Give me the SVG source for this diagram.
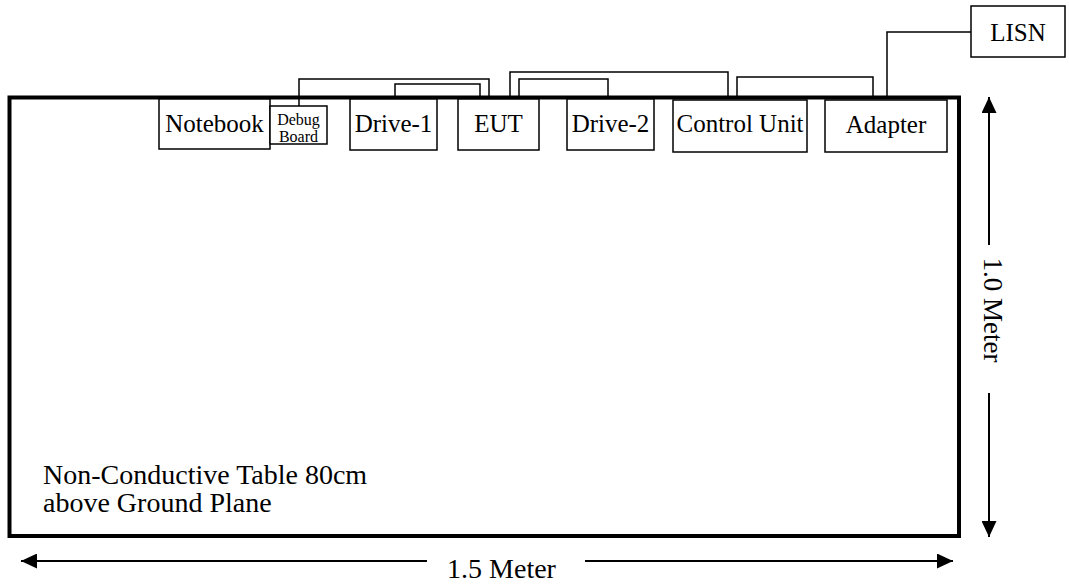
<svg xmlns="http://www.w3.org/2000/svg" width="1069" height="586" viewBox="0 0 1069 586">
<style>
  text { font-family: "Liberation Serif", "Times New Roman", serif; fill: #000; }
  .box { fill: #fff; stroke: #000; stroke-width: 1.5; }
  .lbl { font-family: "Liberation Serif", "Times New Roman", serif; font-size: 25px; text-anchor: middle; }
  .small { font-family: "Liberation Serif", "Times New Roman", serif; font-size: 16px; text-anchor: middle; }
  .big { font-family: "Liberation Serif", "Times New Roman", serif; font-size: 28px; }
  .wire { fill: none; stroke: #000; stroke-width: 1.5; }
  .dim { fill: none; stroke: #000; stroke-width: 2; }
</style>
<defs>
  <marker id="ah" markerWidth="16" markerHeight="15" refX="16" refY="7.5" orient="auto-start-reverse" markerUnits="userSpaceOnUse">
    <path d="M0,0 L16,7.5 L0,15 z" fill="#000"/>
  </marker>
</defs>
<rect width="1069" height="586" fill="#fff"/>

<g id="table">
  <rect x="9.5" y="97.5" width="949.5" height="438.5" fill="none" stroke="#000" stroke-width="4"/>
  <text class="big" x="43" y="484">Non-Conductive Table 80cm</text>
  <text class="big" x="43" y="512">above Ground Plane</text>
</g>

<g id="connectors">
  <polyline class="wire" points="299,106 299,79 489,79 489,97"/>
  <polyline class="wire" points="395,97 395,84 480,84 480,97"/>
  <polyline class="wire" points="510,97 510,72 728,72 728,97"/>
  <polyline class="wire" points="519,97 519,79 608,79 608,97"/>
  <polyline class="wire" points="737,97 737,77 873,77 873,97"/>
  <polyline class="wire" points="887,97 887,32 971,32"/>
</g>

<g id="notebook">
  <rect class="box" x="159" y="99" width="111" height="50"/>
  <text class="lbl" x="214.5" y="132">Notebook</text>
</g>
<g id="debug-board">
  <rect class="box" x="270" y="106" width="57" height="38"/>
  <text class="small" x="298.5" y="125">Debug</text>
  <text class="small" x="298.5" y="142">Board</text>
</g>
<g id="drive-1">
  <rect class="box" x="350" y="99" width="87" height="51"/>
  <text class="lbl" x="393.5" y="132">Drive-1</text>
</g>
<g id="eut">
  <rect class="box" x="458" y="99" width="81" height="51"/>
  <text class="lbl" x="498.5" y="132">EUT</text>
</g>
<g id="drive-2">
  <rect class="box" x="567" y="99" width="87" height="51"/>
  <text class="lbl" x="610.5" y="132">Drive-2</text>
</g>
<g id="control-unit">
  <rect class="box" x="673" y="100" width="134" height="52"/>
  <text class="lbl" x="740" y="132">Control Unit</text>
</g>
<g id="adapter">
  <rect class="box" x="825" y="100" width="122" height="52"/>
  <text class="lbl" x="886" y="133">Adapter</text>
</g>
<g id="lisn">
  <rect class="box" x="971" y="6" width="94" height="51"/>
  <text class="lbl" x="1018" y="41">LISN</text>
</g>

<g id="dimensions">
  <line class="dim" x1="21" y1="561" x2="427" y2="561" marker-start="url(#ah)"/>
  <line class="dim" x1="585" y1="561" x2="953" y2="561" marker-end="url(#ah)"/>
  <text class="big" x="501.5" y="578" text-anchor="middle">1.5 Meter</text>
  <line class="dim" x1="989" y1="97" x2="989" y2="245" marker-start="url(#ah)"/>
  <line class="dim" x1="989" y1="393" x2="989" y2="537" marker-end="url(#ah)"/>
  <text class="big" x="0" y="0" transform="translate(993,310) rotate(90)" style="font-size:27px" text-anchor="middle" dominant-baseline="central">1.0 Meter</text>
</g>
</svg>
